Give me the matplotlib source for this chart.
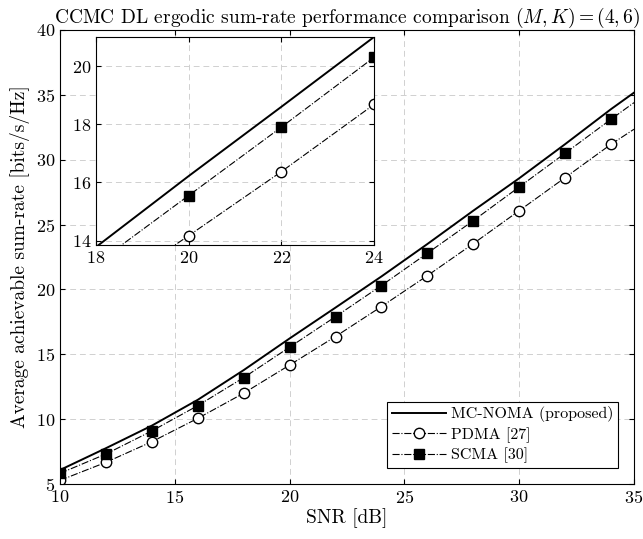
import matplotlib
matplotlib.use('Agg')
import matplotlib.pyplot as plt

plt.rcParams.update({
    'font.family': 'cmr10',
    'mathtext.fontset': 'cm',
    'axes.formatter.use_mathtext': True,
    'font.size': 13,
    'grid.color': '#d0d0d0',
    'grid.linestyle': (0, (6, 4)),
    'grid.linewidth': 0.7,
    'xtick.direction': 'in',
    'ytick.direction': 'in',
    'xtick.top': True,
    'ytick.right': True,
})

# SNR points (markers every 2 dB, line end at 35 dB)
snr = [10, 12, 14, 16, 18, 20, 22, 24, 26, 28, 30, 32, 34, 35]
mc_noma = [6.08, 7.76, 9.5, 11.49, 13.78, 16.22, 18.6, 21.0, 23.5, 26.07, 28.57, 31.2, 33.9, 35.17]
pdma = [5.28, 6.67, 8.26, 10.06, 12.0, 14.17, 16.37, 18.68, 21.06, 23.53, 26.07, 28.62, 31.19, 32.35]
scma = [5.82, 7.31, 9.09, 11.04, 13.2, 15.55, 17.9, 20.3, 22.79, 25.3, 27.9, 30.5, 33.12, 34.4]

mark_idx = list(range(13))

fig = plt.figure(figsize=(6.43, 5.39), dpi=100)
ax = fig.add_axes([60 / 643, 1 - 484 / 539, 574 / 643, 454 / 539])

def draw(a, ms):
    a.plot(snr, mc_noma, '-', color='k', lw=1.4, label='MC-NOMA (proposed)')
    a.plot(snr, pdma, '-.', color='k', lw=0.8, marker='o', mfc='white', mec='k',
           ms=ms, markevery=mark_idx, label='PDMA [27]')
    a.plot(snr, scma, '-.', color='k', lw=0.8, marker='s', mfc='k', mec='k',
           ms=ms, markevery=mark_idx, label='SCMA [30]')

draw(ax, 7.5)
ax.set_xlim(10, 35)
ax.set_ylim(5, 40)
ax.set_xticks([10, 15, 20, 25, 30, 35])
ax.set_yticks([5, 10, 15, 20, 25, 30, 35, 40])
ax.grid(True)
ax.set_xlabel('SNR [dB]', fontsize=14, labelpad=2)
ax.set_ylabel('Average achievable sum-rate [bits/s/Hz]', fontsize=14, labelpad=4)
ax.set_title(r'CCMC DL ergodic sum-rate performance comparison $(M,K)=(4,6)$', fontsize=14, pad=3)
leg = ax.legend(loc='lower right', fontsize=11.5, fancybox=False, edgecolor='k',
                framealpha=1, borderpad=0.3, labelspacing=0.3, handlelength=3.4,
                handletextpad=0.3, borderaxespad=1.0)
leg.get_frame().set_linewidth(0.8)

# inset
axi = fig.add_axes([96 / 643, 1 - 245 / 539, 278 / 643, 208 / 539])
draw(axi, 7.5)
axi.set_xlim(18, 24)
axi.set_ylim(13.85, 21.0)
axi.set_xticks([18, 20, 22, 24])
axi.set_yticks([14, 16, 18, 20])
axi.grid(True)
axi.tick_params(labelsize=13)

fig.savefig('out.png', dpi=100)
